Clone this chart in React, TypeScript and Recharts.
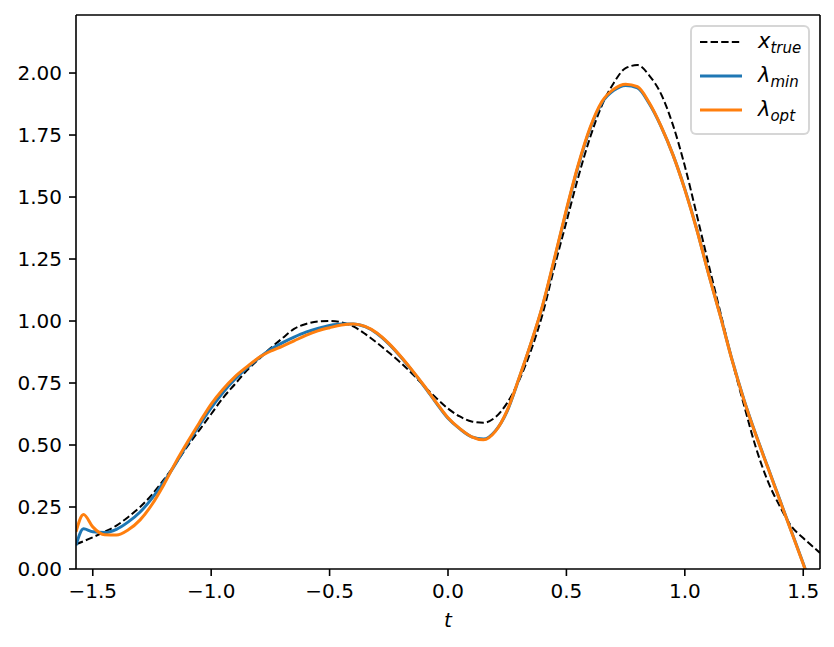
import React from 'react'
import { LineChart, Line, XAxis, YAxis, Legend, ReferenceLine } from 'recharts'

// sample positions on t (-pi/2 .. pi/2)
const tValues = [
  -1.5708, -1.539, -1.5, -1.45, -1.4, -1.35, -1.3, -1.25, -1.2, -1.15, -1.1, -1.05,
  -1.0, -0.95, -0.9, -0.85, -0.8, -0.75, -0.7, -0.65, -0.6, -0.55, -0.5, -0.45,
  -0.4, -0.35, -0.3, -0.25, -0.2, -0.15, -0.1, -0.05, 0.0, 0.05, 0.1, 0.15,
  0.2, 0.25, 0.3, 0.35, 0.4, 0.45, 0.5, 0.55, 0.6, 0.65, 0.7, 0.75,
  0.8, 0.85, 0.9, 0.95, 1.0, 1.05, 1.1, 1.15, 1.2, 1.25, 1.3, 1.35,
  1.4, 1.45, 1.5, 1.5708,
]

const xTrue = [
  0.1, 0.112, 0.128, 0.15, 0.175, 0.21, 0.25, 0.3, 0.36, 0.425, 0.495, 0.56,
  0.625, 0.69, 0.745, 0.8, 0.845, 0.89, 0.93, 0.968, 0.988, 0.998, 1.0, 0.995,
  0.978, 0.948, 0.912, 0.873, 0.832, 0.786, 0.737, 0.69, 0.647, 0.615, 0.595, 0.59,
  0.612, 0.67, 0.76, 0.88, 1.03, 1.22, 1.4, 1.58, 1.74, 1.87, 1.96, 2.02,
  2.032, 1.99, 1.915, 1.79, 1.625, 1.43, 1.23, 1.035, 0.84, 0.66, 0.49, 0.355,
  0.255, 0.172, 0.125, 0.065,
]

const lambdaMin = [
  0.095, 0.162, 0.15, 0.147, 0.16, 0.19, 0.23, 0.285, 0.35, 0.425, 0.505, 0.58,
  0.65, 0.712, 0.765, 0.81, 0.85, 0.885, 0.912, 0.935, 0.955, 0.97, 0.982, 0.988,
  0.988, 0.977, 0.95, 0.908, 0.856, 0.798, 0.736, 0.67, 0.608, 0.565, 0.533, 0.524,
  0.557, 0.637, 0.768, 0.908, 1.062, 1.25, 1.445, 1.625, 1.775, 1.88, 1.93, 1.95,
  1.94, 1.876, 1.784, 1.67, 1.532, 1.372, 1.192, 1.022, 0.842, 0.682, 0.542, 0.412,
  0.282, 0.152, 0.022, -0.168,
]

const lambdaOpt = [
  0.15, 0.22, 0.17, 0.138, 0.137, 0.158, 0.198, 0.26, 0.34, 0.43, 0.512, 0.59,
  0.665, 0.725, 0.775, 0.815, 0.852, 0.878, 0.898, 0.92, 0.942, 0.96, 0.973, 0.984,
  0.988, 0.978, 0.952, 0.91, 0.858, 0.8, 0.738, 0.672, 0.61, 0.566, 0.533, 0.521,
  0.555, 0.64, 0.77, 0.91, 1.065, 1.255, 1.45, 1.63, 1.78, 1.885, 1.935, 1.955,
  1.945, 1.88, 1.785, 1.67, 1.53, 1.37, 1.19, 1.02, 0.84, 0.68, 0.54, 0.41,
  0.28, 0.15, 0.02, -0.17,
]

const xTicks = [-1.5, -1.0, -0.5, 0.0, 0.5, 1.0, 1.5]
const yTicks = [0, 0.25, 0.5, 0.75, 1.0, 1.25, 1.5, 1.75, 2.0]

const X_MIN = -Math.PI / 2
const X_MAX = Math.PI / 2
const Y_MAX = 2.234

const data = tValues.map((t, i) => ({
  t,
  xTrue: xTrue[i],
  lambdaMin: lambdaMin[i],
  lambdaOpt: lambdaOpt[i],
}))

const FONT = 'DejaVu Sans, sans-serif'
const tickStyle = { fill: '#000', fontSize: 20, fontFamily: FONT }

const fmt = (v: number, d: number) => v.toFixed(d).replace('-', '\u2212')

type SeriesInfo = { color: string; width: number; dash?: string; base: string; sub: string }

// legend order follows plotting order
const seriesKeys = ['xTrue', 'lambdaMin', 'lambdaOpt']
const seriesInfo: Record<string, SeriesInfo> = {
  xTrue: { color: '#000000', width: 2, dash: '7.4 3.2', base: 'x', sub: 'true' },
  lambdaMin: { color: '#1f77b4', width: 3, base: 'λ', sub: 'min' },
  lambdaOpt: { color: '#ff7f0e', width: 3, base: 'λ', sub: 'opt' },
}

function MathLegend({ payload }: any) {
  const present = new Set((payload || []).map((p: any) => p.dataKey))
  const keys = seriesKeys.filter((k) => present.has(k))
  return (
    <div
      style={{
        width: 120,
        height: 110,
        boxSizing: 'border-box',
        border: '2px solid rgba(204,204,204,0.8)',
        borderRadius: 6,
        background: 'rgba(255,255,255,0.8)',
        fontFamily: FONT,
      }}
    >
      {keys.map((k) => {
        const s = seriesInfo[k]
        return (
          <div key={k} style={{ height: 34, display: 'flex', alignItems: 'center' }}>
            <svg width={66} height={34} style={{ display: 'block' }}>
              <line
                x1={8}
                x2={50}
                y1={15}
                y2={15}
                stroke={s.color}
                strokeWidth={s.width}
                strokeDasharray={s.dash}
              />
            </svg>
            <span style={{ fontStyle: 'italic', fontSize: 21, color: '#000', lineHeight: '20px', marginTop: -4 }}>
              {s.base}
              <span style={{ fontSize: 15, position: 'relative', top: 5 }}>{s.sub}</span>
            </span>
          </div>
        )
      })}
    </div>
  )
}

export default function App() {
  return (
    <div style={{ position: 'absolute', left: 0, top: 0, width: 834, height: 647, background: '#fff' }}>
      <LineChart width={834} height={647} data={data} margin={{ top: 15, right: 14, left: 0, bottom: 0 }}>
        <XAxis
          dataKey="t"
          type="number"
          domain={[X_MIN, X_MAX]}
          allowDataOverflow
          ticks={xTicks}
          tickFormatter={(v: number) => fmt(v, 1)}
          tick={tickStyle}
          tickSize={7}
          tickMargin={8}
          height={78}
          axisLine={{ stroke: '#000', strokeWidth: 1.6 }}
          tickLine={{ stroke: '#000', strokeWidth: 1.6 }}
          label={{
            value: 't',
            position: 'insideBottom',
            offset: 20,
            style: { fill: '#000', fontSize: 20, fontStyle: 'italic', fontFamily: FONT },
          }}
        />
        <YAxis
          type="number"
          domain={[0, Y_MAX]}
          allowDataOverflow
          ticks={yTicks}
          tickFormatter={(v: number) => fmt(v, 2)}
          tick={tickStyle}
          tickSize={7}
          tickMargin={7}
          width={76}
          axisLine={{ stroke: '#000', strokeWidth: 1.6 }}
          tickLine={{ stroke: '#000', strokeWidth: 1.6 }}
        />
        <ReferenceLine y={Y_MAX} stroke="#000" strokeWidth={1.6} />
        <ReferenceLine x={X_MAX} stroke="#000" strokeWidth={1.6} />
        <Line
          type="monotone"
          dataKey="xTrue"
          stroke="#000000"
          strokeWidth={2}
          strokeDasharray="7.4 3.2"
          dot={false}
          isAnimationActive={false}
        />
        <Line
          type="monotone"
          dataKey="lambdaMin"
          stroke="#1f77b4"
          strokeWidth={3}
          dot={false}
          isAnimationActive={false}
        />
        <Line
          type="monotone"
          dataKey="lambdaOpt"
          stroke="#ff7f0e"
          strokeWidth={3}
          dot={false}
          isAnimationActive={false}
        />
        <Legend
          layout="vertical"
          align="center"
          verticalAlign="middle"
          content={<MathLegend />}
          wrapperStyle={{ position: 'absolute', left: 690, top: 25, width: 120, height: 110 }}
        />
      </LineChart>
    </div>
  )
}
